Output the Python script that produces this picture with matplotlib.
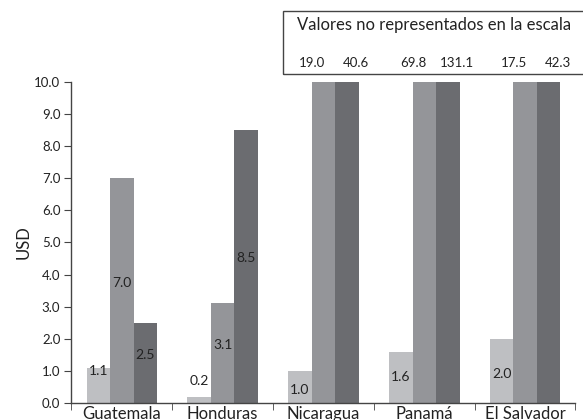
import matplotlib
matplotlib.use('Agg')
import matplotlib.pyplot as plt
from matplotlib.patches import Rectangle
from matplotlib.ticker import FixedLocator

plt.rcParams['font.family'] = ['Lato', 'DejaVu Sans']

# datos
paises = ['Guatemala', 'Honduras', 'Nicaragua', 'Panamá', 'El Salvador']
serie1 = [1.1, 0.2, 1.0, 1.6, 2.0]
serie2 = [7.0, 3.1, 19.0, 69.8, 17.5]
serie3 = [2.5, 8.5, 40.6, 131.1, 42.3]
yticks = [0.0, 1.0, 2.0, 3.0, 4.0, 5.0, 6.0, 7.0, 8.0, 9.0, 10.0]

colores = ['#bebfc2', '#949599', '#6b6c70']
ancho = 0.233
ymax = 10.0

fig = plt.figure(figsize=(5.83, 4.2), dpi=100)
ax = fig.add_axes([0.1226, 0.0405, 0.8645, 0.7645])

x = list(range(len(paises)))
series = [serie1, serie2, serie3]
for i, s in enumerate(series):
    pos = [xi + (i - 1) * ancho for xi in x]
    ax.bar(pos, s, width=ancho, color=colores[i], linewidth=0)

# etiquetas dentro de las barras
pos_etiqueta1 = [1.0, 0.7, 0.4, 0.8, 0.9]
for xi, v, yl in zip(x, serie1, pos_etiqueta1):
    ax.text(xi - ancho, yl, f'{v:.1f}', ha='center', va='center', fontsize=10, color='#222222')
for i in (1, 2):
    for xi, v in zip(x, series[i]):
        if v <= ymax:
            ax.text(xi + (i - 1) * ancho, v / 2 + 0.25, f'{v:.1f}', ha='center', va='center',
                    fontsize=10, color='#222222')

# recuadro de valores fuera de escala
fig.patches.append(Rectangle((0.4854, 0.824), 0.55, 0.150, transform=fig.transFigure,
                             fill=False, edgecolor='#444444', linewidth=1.0))
fig.text(0.51, 0.94, 'Valores no representados en la escala', ha='left', va='center',
         fontsize=12, color='#222222')
desplaz = {1: -0.11, 2: 0.09}
for i in (1, 2):
    for xi, v in zip(x, series[i]):
        if v > ymax:
            ax.text(xi + (i - 1) * ancho + desplaz[i], 1.06, f'{v:.1f}', ha='center', va='center',
                    fontsize=9.5, color='#222222', transform=ax.get_xaxis_transform(),
                    clip_on=False)

ax.set_xlim(-0.5, len(paises) - 0.5)
ax.set_ylim(0, ymax)
ax.set_yticks(yticks)
ax.set_yticklabels([f'{t:.1f}' for t in yticks], fontsize=9.5, color='#222222')
ax.set_xticks(x)
ax.set_xticklabels(paises, fontsize=12, color='#222222')
ax.tick_params(axis='x', which='major', length=0, pad=2)
ax.xaxis.set_minor_locator(FixedLocator([i + 0.5 for i in range(-1, len(paises))]))
ax.tick_params(axis='x', which='minor', length=5, color='#444444', direction='out')
ax.tick_params(axis='y', length=5, color='#444444', direction='out', pad=3)
ax.set_ylabel('USD', fontsize=12, color='#222222', labelpad=2)

for lado in ('top', 'right'):
    ax.spines[lado].set_visible(False)
for lado in ('left', 'bottom'):
    ax.spines[lado].set_color('#444444')
    ax.spines[lado].set_linewidth(1.0)

fig.savefig('out.png', dpi=100)
